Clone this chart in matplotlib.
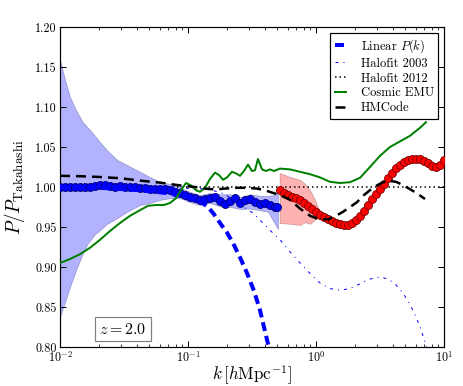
import numpy as np
import matplotlib
matplotlib.use("Agg")
import matplotlib.pyplot as plt
from matplotlib.ticker import FormatStrFormatter, LogLocator

plt.rcParams['mathtext.fontset'] = 'cm'
plt.rcParams['font.family'] = ['cmr10', 'DejaVu Serif']
plt.rcParams['axes.formatter.use_mathtext'] = True
plt.rcParams['lines.scale_dashes'] = False

# ---- simulation ratio, low k (blue points) ----
k_sim_lo = [0.0100, 0.0109, 0.0120, 0.0131, 0.0143, 0.0157, 0.0171, 0.0188, 0.0205, 0.0225,
            0.0246, 0.0269, 0.0294, 0.0322, 0.0352, 0.0385, 0.0421, 0.0461, 0.0504, 0.0552,
            0.0603, 0.0660, 0.0722, 0.0790, 0.0864, 0.0945, 0.103, 0.113, 0.124, 0.135,
            0.148, 0.162, 0.177, 0.194, 0.212, 0.232, 0.254, 0.278, 0.304, 0.332,
            0.364, 0.398, 0.435, 0.476, 0.500]
r_sim_lo = [1.000, 0.9995, 1.0005, 1.000, 0.9995, 1.0005, 1.000, 1.001, 1.0025, 1.002,
            1.0015, 1.0005, 1.001, 1.000, 0.9995, 0.9995, 0.999, 0.999, 0.998, 0.998,
            0.9975, 0.997, 0.996, 0.994, 0.9925, 0.990, 0.9875, 0.986, 0.984, 0.9845,
            0.9865, 0.987, 0.983, 0.979, 0.9825, 0.9865, 0.980, 0.9835, 0.9855, 0.981,
            0.979, 0.9795, 0.977, 0.975, 0.9745]

# error band low k
k_band_lo = [0.0100, 0.01094, 0.01197, 0.01334, 0.01512, 0.01654, 0.01877, 0.02054, 0.02329,
             0.02788, 0.03338, 0.04217, 0.05047, 0.06040, 0.07232, 0.08660, 0.1036, 0.1241,
             0.1486, 0.1778, 0.2129, 0.2548, 0.3050, 0.3652, 0.4217, 0.4698, 0.5047]
band_lo_up = [1.159, 1.134, 1.1125, 1.096, 1.081, 1.074, 1.064, 1.056, 1.046,
              1.034, 1.0275, 1.019, 1.0125, 1.006, 1.004, 0.999, 0.994, 0.990,
              0.9925, 0.991, 0.991, 0.9875, 0.991, 0.989, 0.989, 0.990, 0.994]
band_lo_dn = [0.8375, 0.856, 0.875, 0.896, 0.9175, 0.930, 0.941, 0.946, 0.954,
              0.961, 0.969, 0.9775, 0.980, 0.984, 0.986, 0.986, 0.981, 0.9775,
              0.980, 0.976, 0.975, 0.9725, 0.973, 0.971, 0.969, 0.956, 0.9475]

# ---- simulation ratio, high k (red points) ----
k_sim_hi = [0.520, 0.559, 0.600, 0.645, 0.693, 0.745, 0.801, 0.860, 0.924, 0.993,
            1.067, 1.147, 1.232, 1.324, 1.423, 1.529, 1.643, 1.766, 1.898, 2.039,
            2.191, 2.355, 2.530, 2.719, 2.922, 3.140, 3.374, 3.626, 3.896, 4.187,
            4.499, 4.835, 5.196, 5.583, 6.000, 6.447, 6.928, 7.445, 8.001, 8.597,
            9.239, 9.930]
r_sim_hi = [0.996, 0.9925, 0.990, 0.9875, 0.986, 0.984, 0.980, 0.976, 0.9725, 0.969,
            0.965, 0.9625, 0.960, 0.9575, 0.955, 0.954, 0.9525, 0.9525, 0.955, 0.959,
            0.964, 0.970, 0.9775, 0.985, 0.991, 0.9975, 1.004, 1.011, 1.0175, 1.024,
            1.0275, 1.031, 1.034, 1.035, 1.035, 1.0345, 1.0325, 1.030, 1.026, 1.025,
            1.0275, 1.034]

k_band_hi = [0.520, 0.6263, 0.7499, 0.8204, 0.8977, 0.982, 1.0746]
band_hi_up = [1.0175, 1.0125, 1.009, 1.004, 0.996, 0.984, 0.968]
band_hi_dn = [0.955, 0.954, 0.9525, 0.956, 0.954, 0.959, 0.963]

# ---- model curves ----
k_lin = [0.0100, 0.02054, 0.04217, 0.07232, 0.1036, 0.1241, 0.1433, 0.1596, 0.1778,
         0.2017, 0.2246, 0.2548, 0.2889, 0.3279, 0.3652, 0.4142, 0.4532]
r_lin = [0.9995, 0.999, 0.996, 0.992, 0.987, 0.982, 0.975, 0.966, 0.955,
         0.943, 0.930, 0.912, 0.8925, 0.870, 0.846, 0.809, 0.785]

k_hf03 = [0.0100, 0.02943, 0.07232, 0.1241, 0.1540, 0.1877, 0.2329, 0.2788, 0.3220, 0.3786,
          0.4371, 0.5233, 0.6263, 0.7499, 0.8977, 1.0746, 1.2863, 1.5399, 1.8440, 2.2070,
          2.6416, 3.1623, 3.6517, 4.1416, 4.7835, 5.4273, 6.0407, 6.6120, 7.1061, 7.3653]
r_hf03 = [1.000, 0.9995, 0.999, 0.998, 0.996, 0.992, 0.983, 0.974, 0.9675, 0.956,
          0.946, 0.934, 0.919, 0.905, 0.892, 0.880, 0.873, 0.871, 0.873, 0.879,
          0.885, 0.8875, 0.885, 0.879, 0.8675, 0.853, 0.838, 0.822, 0.806, 0.798]

k_hf12 = [0.01, 10.0]
r_hf12 = [1.0, 1.0]

k_emu = [0.0100, 0.01197, 0.01433, 0.01715, 0.02054, 0.02459, 0.02943, 0.03523, 0.04217,
         0.04870, 0.05623, 0.06494, 0.07232, 0.08058, 0.0882, 0.0965, 0.1055, 0.1155,
         0.1241, 0.1358, 0.1486, 0.1625, 0.1746, 0.1877, 0.2017, 0.2207, 0.2371, 0.2548,
         0.2738, 0.2943, 0.3162, 0.3338, 0.3521, 0.3786, 0.4068, 0.4371, 0.4698, 0.5233,
         0.6263, 0.7499, 0.8977, 1.0746, 1.2863, 1.5399, 1.8440, 2.2070, 2.6416, 3.1623,
         3.7844, 4.5316, 5.4273, 6.4938, 7.2279]
r_emu = [0.905, 0.910, 0.916, 0.924, 0.934, 0.945, 0.955, 0.964, 0.971,
         0.9765, 0.9775, 0.9775, 0.980, 0.986, 0.996, 1.005, 1.002, 0.996,
         0.994, 0.999, 1.010, 1.018, 1.015, 1.009, 1.012, 1.019, 1.017, 1.014,
         1.020, 1.028, 1.020, 1.021, 1.035, 1.022, 1.020, 1.022, 1.020, 1.023,
         1.022, 1.019, 1.016, 1.012, 1.0065, 1.005, 1.006, 1.0115, 1.025, 1.039,
         1.050, 1.057, 1.064, 1.074, 1.081]

k_hm = [0.0100, 0.01433, 0.02054, 0.02943, 0.04217, 0.0604, 0.0866, 0.1134, 0.1358, 0.1625,
        0.1946, 0.2414, 0.2889, 0.3459, 0.3995, 0.4532, 0.5233, 0.6263, 0.7499, 0.8977,
        1.0366, 1.2409, 1.4330, 1.6255, 1.8440, 2.0911, 2.3290, 2.6416, 2.9960, 3.3380,
        3.7844, 4.2170, 4.6989, 5.3307, 6.1518, 7.1061]
r_hm = [1.014, 1.0135, 1.0125, 1.011, 1.008, 1.0055, 1.002, 1.000, 0.998, 0.997,
        0.998, 0.999, 0.999, 0.998, 0.996, 0.993, 0.990, 0.984, 0.973, 0.964,
        0.960, 0.9595, 0.964, 0.969, 0.975, 0.981, 0.989, 0.996, 1.002, 1.006,
        1.0075, 1.0065, 1.003, 0.998, 0.992, 0.985]

legend_labels = ['Linear $P(k)$', 'Halofit 2003', 'Halofit 2012', 'Cosmic EMU', 'HMCode']
yticks = [0.80, 0.85, 0.90, 0.95, 1.00, 1.05, 1.10, 1.15, 1.20]

fig = plt.figure(figsize=(463 / 72, 386 / 72), dpi=72)
ax = fig.add_axes([60 / 463, 39 / 386, 384 / 463, 320 / 386])

ax.fill_between(k_band_lo, band_lo_dn, band_lo_up, facecolor='b', edgecolor='#202060',
                alpha=0.3, linewidth=0.8, zorder=1)
ax.fill_between(k_band_hi, band_hi_dn, band_hi_up, facecolor='r', edgecolor='#602020',
                alpha=0.3, linewidth=0.8, zorder=1)

l_hf12, = ax.plot(k_hf12, r_hf12, color='k', lw=1.5, linestyle=(0, (1.5, 3)), zorder=2)

ax.plot(k_sim_lo, r_sim_lo, 'o', color='b', mec='#000070', mew=0.8, ms=8, zorder=3)
ax.plot(k_sim_hi, r_sim_hi, 'o', color='r', mec='#700000', mew=0.8, ms=8, zorder=3)

l_lin, = ax.plot(k_lin, r_lin, color='b', lw=4, linestyle=(0, (9, 5)), zorder=4)
l_hf03, = ax.plot(k_hf03, r_hf03, color='b', lw=1, linestyle=(0, (3, 5, 1, 5)), zorder=4)
l_emu, = ax.plot(k_emu, r_emu, color='g', lw=2, zorder=4)
l_hm, = ax.plot(k_hm, r_hm, color='k', lw=2.5, linestyle=(0, (10, 6)), zorder=4)

ax.set_xscale('log')
ax.set_xlim(0.01, 10)
ax.set_ylim(0.80, 1.20)
ax.set_yticks(yticks)
ax.yaxis.set_major_formatter(FormatStrFormatter('%.2f'))
ax.xaxis.set_major_locator(LogLocator(base=10, numticks=10))
ax.xaxis.set_minor_locator(LogLocator(base=10, subs=np.arange(2, 10), numticks=20))

ax.tick_params(which='both', direction='in', top=True, right=True, labelsize=12)
ax.tick_params(which='major', length=6, width=1)
ax.tick_params(which='minor', length=3, width=0.8)
for s in ax.spines.values():
    s.set_linewidth(1.2)

ax.set_xlabel(r'$k\,[h\mathrm{Mpc}^{-1}]$', fontsize=17)
ax.xaxis.set_label_coords(0.5, -0.05)
ax.set_ylabel(r'$P/P_{\rm Takahashi}$', fontsize=19)
ax.yaxis.set_label_coords(-0.085, 0.5)

leg = ax.legend([l_lin, l_hf03, l_hf12, l_emu, l_hm], legend_labels, loc='upper right',
                fontsize=12.5, handlelength=0.9, handletextpad=1.2, labelspacing=0.22,
                borderpad=0.35, borderaxespad=0.45, fancybox=False, framealpha=1)
leg.get_frame().set_edgecolor('k')
leg.get_frame().set_linewidth(1.2)

ax.text(0.164, 0.056, '$z = 2.0$', transform=ax.transAxes, ha='center', va='center',
        fontsize=16, bbox=dict(boxstyle='square,pad=0.3', fc='white', ec='gray', lw=1.2))

fig.savefig('out.png', dpi=72)
